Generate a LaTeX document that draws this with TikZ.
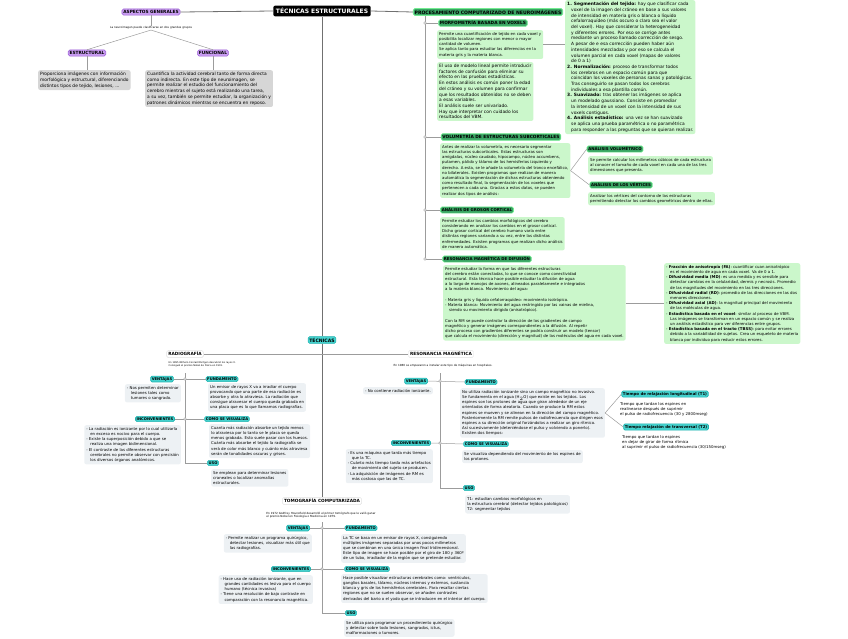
\documentclass[tikz,border=0pt]{standalone}
\usepackage{fontspec}
\setmainfont{DejaVu Sans}
\usetikzlibrary{positioning,calc}
\definecolor{mapline}{HTML}{9C9C9C}
\definecolor{trunk}{HTML}{707070}
\definecolor{lilafill}{HTML}{C89CF0}
\definecolor{lilaline}{HTML}{9A5CD6}
\definecolor{verdehd}{HTML}{3AA564}
\definecolor{verdeglow}{HTML}{74EC92}
\definecolor{verdebox}{HTML}{CBF7CB}
\definecolor{tealfill}{HTML}{45D2CE}
\definecolor{tealline}{HTML}{22B3B0}
\definecolor{grisbox}{HTML}{D6D6D6}
\definecolor{notebox}{HTML}{EDF1F4}

\newcommand{\txs}{\fontsize{3.9}{5.2}\selectfont}
\newcommand{\txm}{\fontsize{4.4}{5.7}\selectfont}
\newcommand{\txn}{\fontsize{2.8}{3.4}\selectfont}
\newcommand{\hdfont}{\fontsize{4.3}{5}\selectfont\bfseries}
\newcommand{\thfont}{\fontsize{3.7}{4.4}\selectfont\bfseries}
\newcommand{\ind}{\hspace*{4pt}}

\tikzset{
  titlebox/.style={fill=black, text=white, rounded corners=2pt, inner sep=2.6pt,
    font=\fontsize{6}{7}\selectfont\bfseries},
  lila/.style={fill=lilafill, draw=lilaline, line width=0.5pt, rounded corners=1.5pt,
    inner sep=1.4pt, font=\hdfont},
  verdehead/.style={fill=verdehd, draw=verdeglow, line width=0.7pt, rounded corners=1.5pt,
    inner sep=1.3pt, font=\hdfont},
  tealhead/.style={fill=tealfill, draw=tealline, line width=0.6pt, rounded corners=1.5pt,
    inner sep=1.2pt, font=\thfont},
  plainhead/.style={fill=white, draw=black!12, rounded corners=1.5pt, inner sep=1.6pt,
    font=\hdfont},
  verdetxt/.style={fill=verdebox, rounded corners=2pt, inner sep=2pt, align=left,
    anchor=north west, font=\txs},
  gristxt/.style={fill=grisbox, rounded corners=2pt, inner sep=2pt, align=left,
    anchor=north west, font=\txm},
  infotxt/.style={fill=notebox, rounded corners=2pt, inner sep=2pt, align=left,
    anchor=north west, font=\txs},
  tinynote/.style={font=\txn, align=left, inner sep=0.5pt},
  mapedge/.style={draw=mapline, line width=0.5pt},
  trunkedge/.style={draw=trunk, line width=0.8pt},
  hubfill/.style={fill=white, draw=mapline, line width=0.4pt}
}

\begin{document}
\begin{tikzpicture}[x=1pt,y=-1pt]
\useasboundingbox (0,0) rectangle (848,638);

% titulo y aspectos generales
\node[titlebox] (title) at (322,11) {TÉCNICAS ESTRUCTURALES};
\node[lila] (aspectos) at (151,12) {ASPECTOS GENERALES};
\node[tinynote] (aspnote) at (151,28) {La neuroimagen puede clasificarse en dos grandes grupos};
\node[lila] (estructural) at (87,53) {ESTRUCTURAL};
\node[lila] (funcional) at (213,53) {FUNCIONAL};
\node[gristxt] (estrtxt) at (38,70) {Proporciona imágenes con información\\
morfológica y estructural, diferenciando\\
distintos tipos de tejido, lesiones, ...};
\node[gristxt] (functxt) at (145,70) {Cuantifica la actividad cerebral tanto de forma directa\\
como indirecta. En este tipo de neuroimagen, se\\
permite realizar el estudio del funcionamiento del\\
cerebro mientras el sujeto está realizando una tarea,\\
a su vez, también se permite estudiar, la organización y\\
patrones dinámicos mientras se encuentra en reposo.};

\draw[trunkedge] (title.west) -- (aspectos.east);
\draw[mapedge] (aspectos.south) -- (aspnote.north);
\draw[mapedge] (aspnote.south) -- (estructural.north);
\draw[mapedge] (aspnote.south) -- (funcional.north);
\draw[mapedge] (estructural.south) -- (estrtxt.north -| estructural);
\draw[mapedge] (funcional.south) -- (functxt.north -| funcional);

% procesamiento computarizado
\node[verdehead, font=\fontsize{4.6}{5.2}\selectfont\bfseries] (proc) at (488,12)
  {PROCESAMIENTO COMPUTARIZADO DE NEUROIMÁGENES};
\coordinate (proctop) at (425,16);
\coordinate (procbot) at (425,259);
\draw[trunkedge] (title.east) -- (proc.west);
\draw[mapedge] (proctop) -- (procbot);

\node[verdehead] (morfo) at (483,23) {MORFOMETRÍA BASADA EN VOXELS};
\node[verdetxt] (morfo1) at (437,30) {Permite una cuantificación de tejido en cada voxel y\\
posibilita localizar regiones con menor o mayor\\
cantidad de volumen.\\
Se aplica tanto para estudiar las diferencias en la\\
materia gris y la materia blanca.};
\node[verdetxt, font=\txm] (morfo2) at (437,62) {El uso de modelo lineal permite introducir\\
factores de confusión para eliminar su\\
efecto en las pruebas estadísticas.\\
En estos análisis es común poner la edad\\
del cráneo y su volumen para confirmar\\
que los resultados obtenidos no se deben\\
a esas variables.\\
El análisis suele ser univariado.\\
Hay que interpretar con cuidado los\\
resultados del VBM.};
\node[verdetxt, font=\txm] (pasos) at (565,0) {\textbf{1. Segmentación del tejido:} hay que clasificar cada\\
\ind voxel de la imagen del cráneo en base a sus valores\\
\ind de intensidad en materia gris o blanca o líquido\\
\ind cefalorraquídeo (más oscuro o claro sea el valor\\
\ind del voxel). Hay que considerar la heterogeneidad\\
\ind y diferentes errores. Por eso se corrige antes\\
\ind mediante un proceso llamado corrección de sesgo.\\
\ind A pesar de e esa corrección pueden haber aún\\
\ind intensidades mezcladas y por eso se calcula el\\
\ind volumen parcial en cada voxel (mapas de valores\\
\ind de 0 a 1)\\
\textbf{2. Normalización:} proceso de transformar todos\\
\ind los cerebros en un espacio común para que\\
\ind coincidan los voxeles de personas sanas y patológicas.\\
\ind Tras conseguirlo se pasan todos los cerebros\\
\ind individuales a esa plantilla común.\\
\textbf{3. Suavizado:} tras obtener las imágenes se aplica\\
\ind un modelado gaussiano. Consiste en promediar\\
\ind la intensidad de un voxel con la intensidad de sus\\
\ind voxels contiguos.\\
\textbf{4. Análisis estadístico:} una vez se han suavizado\\
\ind se aplica una prueba paramétrica o no paramétrica\\
\ind para responder a las preguntas que se quieran realizar.};
\draw[mapedge] (morfo.west -| proctop) -- (morfo.west);
\draw[mapedge] (morfo1.east) -- (morfo1.east -| pasos.west);

\node[verdehead] (volum) at (501,137) {VOLUMETRÍA DE ESTRUCTURAS SUBCORTICALES};
\node[verdetxt] (volumtxt) at (440,143) {Antes de realizar la volumetría, es necesario segmentar\\
las estructuras subcorticales. Estas estructuras son\\
amígdalas, núcleo caudado, hipocampo, núcleo accumbens,\\
putamen, pálido y tálamo de los hemisferios izquierdo y\\
derecho. A esta, se le añade la volumetría del tronco encefálico,\\
no bilaterales. Existen programas que realizan de manera\\
automática la segmentación de dichas estructuras obteniendo\\
como resultado final, la segmentación de los voxeles que\\
pertenecen a cada una. Gracias a estos datos, se pueden\\
realizar dos tipos de análisis:};
\draw[mapedge] (volum.west -| proctop) -- (volum.west);

\node[verdehead, font=\fontsize{3.9}{4.6}\selectfont\bfseries] (volumetrico) at (615,149) {ANÁLISIS VOLUMÉTRICO};
\node[verdetxt] (volumetricotxt) at (588,156) {Se permite calcular los milímetros cúbicos de cada estructura\\
al conocer el tamaño de cada voxel en cada una de las tres\\
dimensiones que presenta.};
\node[verdehead, font=\fontsize{3.9}{4.6}\selectfont\bfseries] (vertices) at (621,185) {ANÁLISIS DE LOS VÉRTICES};
\node[verdetxt] (verticestxt) at (588,192) {Analizar los vértices del contorno de las estructuras\\
permitiendo detectar los cambios geométricos dentro de ellas.};
\draw[mapedge] (volumtxt.east) -- (volumetrico.west);
\draw[mapedge] (volumtxt.east) -- (vertices.west);

\node[verdehead, font=\fontsize{3.9}{4.6}\selectfont\bfseries] (grosor) at (477,210) {ANÁLISIS DE GROSOR CORTICAL};
\node[verdetxt] (grosortxt) at (440,217) {Permite estudiar los cambios morfológicos del cerebro\\
considerando en analizar los cambios en el grosor cortical.\\
Dicho grosor cortical del cerebro humano varía entre\\
distintas regiones variando a su vez, entre las distintas\\
enfermedades. Existen programas que realizan dicho análisis\\
de manera automática.};
\draw[mapedge] (grosor.west -| proctop) -- (grosor.west);

\node[verdehead, font=\fontsize{3.9}{4.6}\selectfont\bfseries] (difusion) at (487,259) {RESONANCIA MAGNÉTICA DE DIFUSIÓN};
\node[verdetxt] (difusiontxt) at (443,265) {Permite estudiar la forma en que las diferentes estructuras\\
del cerebro están conectadas, lo que se conoce como conectividad\\
estructural. Esta técnica hace posible estudiar la difusión de agua\\
a lo largo de manojos de axones, alineados paralelamente e integrados\\
a la materia blanca. Movimiento del agua:\\[5.2pt]
- Materia gris y líquido cefalorraquídeo: movimiento isotrópico.\\
- Materia blanca: Movimiento del agua restringido por las vainas de mielina,\\
\ind siendo su movimiento dirigido (anisotrópico).\\[5.2pt]
Con la RM se puede controlar la dirección de los gradientes de campo\\
magnético y generar imágenes correspondientes a la difusión. Al repetir\\
dicho proceso con gradientes diferentes se podría construir un modelo (tensor)\\
que calcula el movimiento (dirección y magnitud) de las moléculas del agua en cada voxel.};
\node[verdetxt] (indices) at (664,263) {- \textbf{Fracción de anisotropía (FA)}: cuantificar cuan anisotrópico\\
\ind es el movimiento de agua en cada voxel. Va de 0 a 1.\\
- \textbf{Difusividad media (MD)}: es una medida y es sensible para\\
\ind detectar cambios en la celularidad, dermis y necrosis. Promedio\\
\ind de las magnitudes del movimiento en las tres direcciones.\\
- \textbf{Difusividad radial (RD)}: promedio de las direcciones en las dos\\
\ind menores direcciones.\\
- \textbf{Difusividad axial (AD)}: la magnitud principal del movimiento\\
\ind de las moléculas de agua.\\
- \textbf{Estadística basada en el voxel}: similar al proceso de VBM.\\
\ind Las imágenes se transforman en un espacio común y se realiza\\
\ind un análisis estadístico para ver diferencias entre grupos.\\
- \textbf{Estadística basada en el tracto (TBSS)}: para evitar errores\\
\ind debido a la variabilidad de sujetos. Crea un esqueleto de materia\\
\ind blanca por individuo para reducir estos errores.};
\draw[mapedge] (difusion.west -| proctop) -- (difusion.west);
\draw[mapedge] (difusiontxt.east) -- (difusiontxt.east -| indices.west);
\foreach \hd in {morfo,volum,grosor,difusion}
  \filldraw[hubfill] (\hd.west -| proctop) circle (1.3pt);

% tecnicas
\node[tealhead, font=\fontsize{4.6}{5.2}\selectfont\bfseries] (tecnicas) at (322,340) {TÉCNICAS};
\draw[trunkedge] (title.south) -- (tecnicas.north);
\node[plainhead] (rx) at (185,354) {RADIOGRAFÍA};
\node[plainhead] (rm) at (441,354) {RESONANCIA MAGNÉTICA};
\node[plainhead] (tc) at (322,501) {TOMOGRAFÍA COMPUTARIZADA};
\draw[trunkedge] (tecnicas.south) -- (tc.north);
\draw[mapedge] (rx.east) -- (rm.west);

% radiografia
\node[tinynote, font=\fontsize{2.4}{3}\selectfont, anchor=north west] (rxnote) at (168,361)
  {En 1895 Wilhem Conrad Röntgen descubrió los rayos X.\\Consiguió el premio Nobel de Física en 1901.};
\coordinate (rxtop) at (185,373);
\coordinate (rxbot) at (185,463);
\draw[mapedge] (rxtop) -- (rxbot);
\node[tealhead] (rxvent) at (162,379) {VENTAJAS};
\node[tealhead] (rxfund) at (222,379) {FUNDAMENTO};
\node[tealhead] (rxinc) at (155,419) {INCONVENIENTES};
\node[tealhead] (rxcomo) at (227,419) {COMO SE VISUALIZA};
\node[tealhead] (rxuso) at (213,463) {USO};
\draw[mapedge] (rxvent.east) -- (rxfund.west);
\draw[mapedge] (rxinc.east) -- (rxcomo.west);
\draw[mapedge] (rxbot) -- (rxuso.west);
\node[infotxt, anchor=north east] (rxventtxt) at (181,384) {- Nos permiten determinar\\
\ind lesiones tales como\\
\ind tumores o sangrado.};
\node[infotxt] (rxfundtxt) at (208,383) {Un emisor de rayos X va a irradiar el cuerpo\\
provocando que una parte de esa radiación es\\
absorbe y otra lo atraviesa. La radiación que\\
consigue atravesar el cuerpo queda grabada en\\
una placa que es lo que llamamos radiografías.};
\node[infotxt, anchor=north east] (rxinctxt) at (181,425) {- La radiación es ionizante por lo cual utilizarla\\
\ind en exceso es nocivo para el cuerpo.\\
- Existe la superposición debido a que se\\
\ind realiza una imagen bidimensional.\\
- El contraste de las diferentes estructuras\\
\ind cerebrales no permite observar con precisión\\
\ind los diversos órganos anatómicos.};
\node[infotxt] (rxcomotxt) at (209,424) {Cuanta más radiación absorbe un tejido menos\\
lo atraviesa por lo tanto se le placa se queda\\
menos grabada. Esto suele pasar con los huesos.\\
Cuánta más absorbe el tejido la radiografía se\\
verá de color más blanco y cuánto más atraviesa\\
serán de tonalidades oscuras y grises.};
\node[infotxt] (rxusotxt) at (211,469) {Se emplean para determinar lesiones\\
craneales o localizar anomalías\\
estructurales.};
\foreach \hd in {rxvent,rxinc}
  \filldraw[hubfill] (\hd.east -| rxtop) circle (1.3pt);

% resonancia magnetica
\node[tinynote] (rmnote) at (443,366) {En 1980 se empezaron a instalar este tipo de máquinas en hospitales.};
\coordinate (rmtop) at (440,373);
\coordinate (rmbot) at (440,488);
\draw[mapedge] (rmtop) -- (rmbot);
\node[tealhead] (rmvent) at (416,381) {VENTAJAS};
\node[tealhead] (rmfund) at (481,382) {FUNDAMENTO};
\node[tealhead] (rminc) at (411,443) {INCONVENIENTES};
\node[tealhead] (rmcomo) at (486,444) {COMO SE VISUALIZA};
\node[tealhead] (rmuso) at (469,488) {USO};
\draw[mapedge] (rmvent.east) -- (rmfund.west);
\draw[mapedge] (rminc.east) -- (rmcomo.west);
\draw[mapedge] (rmbot) -- (rmuso.west);
\node[infotxt, anchor=north east] (rmventtxt) at (433,387) {- No contiene radiación ionizante.};
\node[infotxt] (rmfundtxt) at (460,388) {No utiliza radiación ionizante sino un campo magnético no invasivo.\\
Se fundamenta en el agua (H$_2$O) que existe en los tejidos. Los\\
espines son los protones de agua que giran alrededor de un eje\\
orientados de forma aleatoria. Cuando se produce la RM estos\\
espines se mueven y se alinean en la dirección del campo magnético.\\
Posteriormente la RM remite pulsos de radiofrecuencia que dirigen esos\\
espines a su dirección original forzándolos a realizar un giro rítmico.\\
Así sucesivamente (deteniéndose el pulso y volviendo a ponerlo).\\
Existen dos tiempos:};
\node[tealhead, font=\fontsize{3.9}{4.6}\selectfont\bfseries] (tuno) at (665,394) {Tiempo de relajación longitudinal (T1)};
\node[tealhead, font=\fontsize{3.9}{4.6}\selectfont\bfseries] (tdos) at (666,427) {Tiempo relajación de transversal (T2)};
\node[infotxt, fill=white] (tunotxt) at (618,400) {Tiempo que tardan los espines en\\
realinearse después de suprimir\\
el pulso de radiofrecuencia (30 y 2800mseg)};
\node[infotxt, fill=white] (tdostxt) at (620,433) {Tiempo que tardan lo espines\\
en dejar de girar de forma rítmica\\
al suprimir el pulso de radiofrecuencia (30/150mseg)};
\draw[mapedge] (rmfundtxt.east) -- (tuno.west);
\draw[mapedge] (rmfundtxt.east) -- (tdos.west);
\node[infotxt, anchor=north east] (rminctxt) at (433,449) {- Es una máquina que tarda más tiempo\\
\ind que la TC.\\
- Cuánto más tiempo tarda más artefactos\\
\ind de movimiento del sujeto se producen.\\
- La adquisición de imágenes de RM es\\
\ind más costosa que las de TC.};
\node[infotxt] (rmcomotxt) at (462,450) {Se visualiza dependiendo del movimiento de los espines de\\
los protones.};
\node[infotxt] (rmusotxt) at (465,495) {T1: estudian cambios morfológicos en\\
la estructura cerebral (detectar tejidos patológicos)\\
T2: segmentar tejidos};
\foreach \hd in {rmvent,rminc}
  \filldraw[hubfill] (\hd.east -| rmtop) circle (1.3pt);

% tomografia computarizada
\node[tinynote] (tcnote) at (321,515) {En 1972 Godfrey Hounsfield desarrolló el primer tomógrafo que le valió ganar\\
el premio Nobel en Fisiología o Medicina en 1979.};
\coordinate (tctop) at (322,522);
\coordinate (tcbot) at (322,613);
\draw[mapedge] (tctop) -- (tcbot);
\node[tealhead] (tcvent) at (298,528) {VENTAJAS};
\node[tealhead] (tcfund) at (361,528) {FUNDAMENTO};
\node[tealhead] (tcinc) at (291,569) {INCONVENIENTES};
\node[tealhead] (tccomo) at (367,569) {COMO SE VISUALIZA};
\node[tealhead] (tcuso) at (351,613) {USO};
\draw[mapedge] (tcvent.east) -- (tcfund.west);
\draw[mapedge] (tcinc.east) -- (tccomo.west);
\draw[mapedge] (tcbot) -- (tcuso.west);
\node[infotxt, anchor=north east] (tcventtxt) at (312,534) {- Permite realizar un programa quirúrgico,\\
\ind detectar lesiones, visualizar más útil que\\
\ind las radiografías.};
\node[infotxt] (tcfundtxt) at (341,534) {La TC se basa en un emisor de rayos X, consiguiendo\\
múltiples imágenes separadas por unos pocos milímetros\\
que se combinan en una única imagen final tridimensional.\\
Este tipo de imagen se hace posible por el giro de 180 y 360º\\
de un tubo, irradiador de la región que se pretende estudiar.};
\node[infotxt, anchor=north east] (tcinctxt) at (313,575) {- Hace uso de radiación ionizante, que en\\
\ind grandes cantidades es lesiva para el cuerpo\\
\ind humano (técnica invasiva)\\
- Tiene una resolución de bajo contraste en\\
\ind comparación con la resonancia magnética.};
\node[infotxt] (tccomotxt) at (341,574) {Hace posible visualizar estructuras cerebrales como: ventrículos,\\
ganglios basales, tálamo, núcleos internos y externos, sustancia\\
blanca y gris de los hemisferios cerebrales. Para resaltar ciertas\\
regiones que no se suelen observar, se añaden contrastes\\
derivados del bario o el yodo que se introducen en el interior del cuerpo.};
\node[infotxt] (tcusotxt) at (344,619) {Se utiliza para programar un procedimiento quirúrgico\\
y detectar sobre todo lesiones, sangrados, ictus,\\
malformaciones o tumores.};
\foreach \hd in {tcvent,tcinc}
  \filldraw[hubfill] (\hd.east -| tctop) circle (1.3pt);
\end{tikzpicture}
\end{document}
